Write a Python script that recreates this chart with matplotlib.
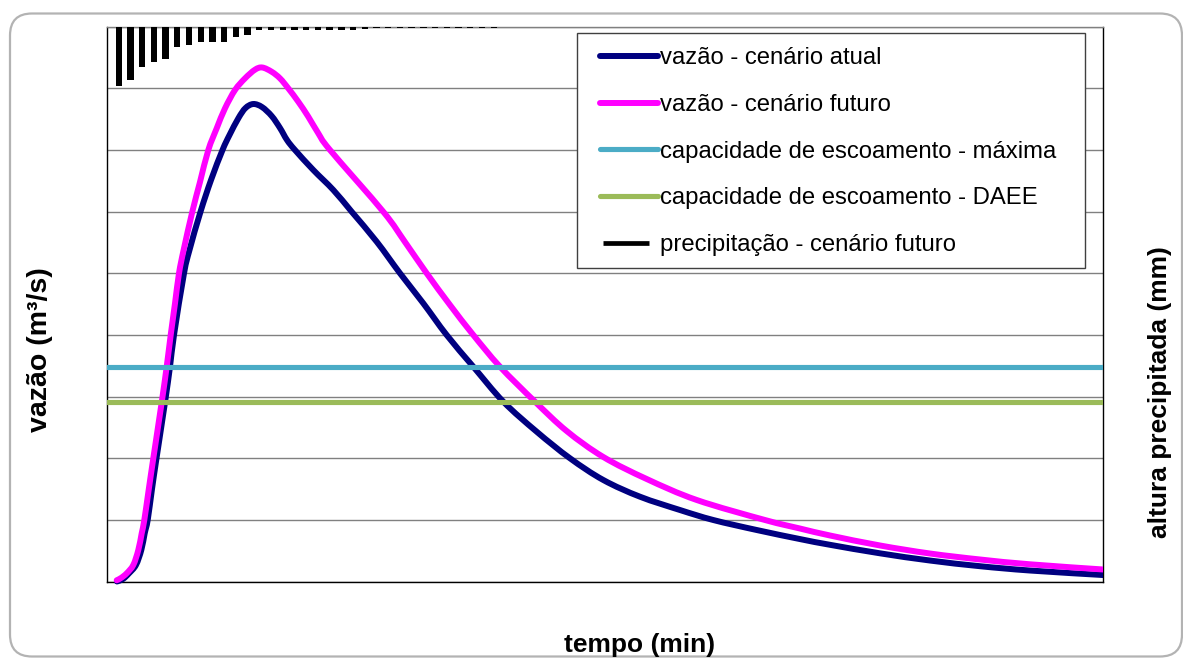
import matplotlib
matplotlib.use("Agg")
import matplotlib.pyplot as plt
from matplotlib.lines import Line2D
from matplotlib.path import Path
from matplotlib.patches import FancyBboxPatch, Rectangle, PathPatch
from matplotlib.transforms import IdentityTransform
from matplotlib.legend_handler import HandlerBase

plt.rcParams['font.family'] = ['Liberation Sans', 'DejaVu Sans']

# --- flow hydrographs (time in min, flow in m³/s) ---
t_atual = [4.27, 6.83, 9.39, 12.37, 14.64, 16.09, 17.37, 19.20, 21.12, 24.75,
           26.88, 28.59, 32.86, 35.20, 39.90, 44.38, 49.29, 52.27, 56.11, 59.10,
           62.43, 66.14, 70.28, 73.82, 76.81, 80.22, 88.03, 96.57, 104.42, 115.09,
           125.03, 134.97, 144.95, 156.31, 169.11, 183.36, 197.57, 211.78, 227.44,
           244.51, 258.72, 277.24, 295.71, 308.51, 329.85, 351.18, 372.52, 393.86,
           425.0]
q_atual = [0.0, 0.41, 1.33, 2.68, 5.11, 7.82, 9.97, 15.0, 19.98, 29.06,
           34.83, 39.97, 49.98, 53.75, 59.96, 65.10, 69.97, 72.40, 75.16, 76.78,
           77.43, 76.94, 75.48, 73.54, 71.59, 69.97, 66.73, 63.49, 59.96, 55.10,
           49.98, 45.11, 39.97, 34.83, 29.16, 24.29, 19.98, 16.46, 13.75,
           11.59, 9.97, 8.35, 6.88, 5.95, 4.57, 3.40, 2.48, 1.78,
           1.05]

t_futuro = [4.14, 5.97, 8.41, 11.22, 13.36, 14.81, 15.92, 17.84, 19.76, 23.34,
            25.47, 27.18, 29.02, 30.72, 32.69, 36.40, 39.68, 43.23, 46.81, 50.35,
            54.62, 58.89, 63.16, 66.27, 70.28, 73.82, 77.36, 81.63, 85.90, 90.16,
            95.16, 117.90, 127.16, 136.42, 146.36, 156.31, 167.70, 182.63, 196.16,
            211.78, 230.30, 251.63, 280.78, 295.71, 308.51, 329.85, 351.18, 372.52,
            393.86, 425.0]
q_futuro = [0.2, 0.57, 1.33, 2.68, 5.11, 7.82, 9.97, 15.0, 19.98, 29.06,
            34.83, 39.97, 45.11, 49.98, 53.75, 59.96, 64.78, 69.97, 73.49, 76.73,
            79.70, 81.59, 83.0, 83.35, 82.66, 81.59, 79.97, 77.80, 75.37, 72.68,
            69.97, 59.96, 55.05, 49.98, 44.84, 39.97, 34.83, 29.16, 24.40,
            20.19, 16.62, 13.22, 9.97, 8.59, 7.46, 5.84, 4.54, 3.57,
            2.79, 1.95]

# --- channel capacities (m³/s) ---
t_limites = [0.0, 425.0]
cap_maxima = 34.8
cap_daee = 29.05

# --- rainfall hyetograph (mm per 5-min step) ---
t_chuva = [5 * (i + 1) for i in range(33)]
p_chuva = [9.7, 8.75, 6.6, 5.8, 5.3, 3.35, 3.0, 2.45, 2.45, 2.45, 1.75, 1.35,
           0.6, 0.6, 0.6, 0.6, 0.6, 0.6, 0.6, 0.6, 0.6, 0.45, 0.3,
           0.25, 0.25, 0.25, 0.25, 0.25, 0.25, 0.25, 0.25, 0.25, 0.25]

labels = ["vazão - cenário atual", "vazão - cenário futuro",
          "capacidade de escoamento - máxima", "capacidade de escoamento - DAEE",
          "precipitação - cenário futuro"]


def smoothed_path(x, y):
    """Bezier path through the points (spreadsheet-style smoothed line)."""
    n = len(x)
    verts = [(x[0], y[0])]
    codes = [Path.MOVETO]
    for i in range(n - 1):
        a = i - 1 if i > 0 else i
        d = i + 2 if i + 2 < n else i + 1
        c1 = (x[i] + (x[i + 1] - x[a]) / 6.0, y[i] + (y[i + 1] - y[a]) / 6.0)
        c2 = (x[i + 1] - (x[d] - x[i]) / 6.0, y[i + 1] - (y[d] - y[i]) / 6.0)
        verts += [c1, c2, (x[i + 1], y[i + 1])]
        codes += [Path.CURVE4] * 3
    return Path(verts, codes)


class ShortLineHandler(HandlerBase):
    """Legend key drawn as a shorter bar, as used for the rainfall series."""
    def create_artists(self, legend, orig_handle, xdescent, ydescent, width,
                       height, fontsize, trans):
        y = height / 2 - ydescent
        x0 = -xdescent + 0.05 * width
        x1 = -xdescent + 0.84 * width
        line = Line2D([x0, x1], [y, y], color=orig_handle.get_color(),
                      lw=orig_handle.get_linewidth(), solid_capstyle='butt')
        line.set_transform(trans)
        return [line]


W, H = 1183, 658
fig = plt.figure(figsize=(W / 100, H / 100), dpi=100)
fig.patch.set_facecolor('white')

# rounded chart frame
frame = FancyBboxPatch((10, 1.5), 1172, 643, boxstyle="round,pad=0,rounding_size=22",
                       transform=IdentityTransform(), facecolor='none',
                       edgecolor='#b3b3b3', linewidth=1.6, zorder=0)
fig.patches.append(frame)

left, right, top, bottom = 107, 1103, 26.5, 581.5
ax = fig.add_axes([left / W, 1 - bottom / H, (right - left) / W, (bottom - top) / H])
ax.set_yticks(range(0, 91, 10))
ax.set_xticks([])
ax.tick_params(axis='both', length=0, left=False, right=False, bottom=False,
               labelleft=False, labelbottom=False)
ax.grid(axis='y', color='#808080', linewidth=1.0)
ax.set_axisbelow(True)
for s in ax.spines.values():
    s.set_color('black')
    s.set_linewidth(1.0)
ax.spines['top'].set_color('#808080')

lw = 4.3
clip_rect = Rectangle((-0.05, -0.05), 1.05, 1.1, transform=ax.transAxes)
for tt, qq, col, z in [(t_atual, q_atual, '#000080', 3),
                       (t_futuro, q_futuro, '#FF00FF', 4)]:
    pp = PathPatch(smoothed_path(tt, qq), facecolor='none', edgecolor=col, lw=lw,
                   capstyle='round', joinstyle='round', zorder=z)
    ax.add_patch(pp)
    pp.set_clip_path(clip_rect)
ax.plot(t_limites, [cap_maxima] * 2, color='#4BACC6', lw=3.7, zorder=5)
ax.plot(t_limites, [cap_daee] * 2, color='#9BBB59', lw=3.7, zorder=5)
ax.set_xlim(0, 425)
ax.set_ylim(0, 90)

# rainfall on an inverted secondary axis
ax2 = ax.twinx()
ax2.set_ylim(90, 0)
ax2.bar(t_chuva, p_chuva, width=2.7, color='black', align='center')
ax2.set_yticks([])
ax2.tick_params(axis='both', length=0, left=False, right=False,
                labelleft=False, labelright=False)
ax2.patch.set_visible(False)
for s in ax2.spines.values():
    s.set_visible(False)

# legend box and entries
box = Rectangle((577, H - 268), 508, 235, transform=IdentityTransform(),
                facecolor='white', edgecolor='#404040', linewidth=1.0, zorder=2)
fig.add_artist(box)

h5 = Line2D([], [], color='black', lw=3.4)
handles = [Line2D([], [], color='#000080', lw=lw, solid_capstyle='round'),
           Line2D([], [], color='#FF00FF', lw=lw, solid_capstyle='round'),
           Line2D([], [], color='#4BACC6', lw=3.7, solid_capstyle='round'),
           Line2D([], [], color='#9BBB59', lw=3.7, solid_capstyle='round'),
           h5]
leg = fig.legend(handles, labels, loc='upper left',
                 bbox_to_anchor=(600 / W, 1 - 47.5 / H), bbox_transform=fig.transFigure,
                 fontsize=17.2, frameon=False,
                 handlelength=2.42, handletextpad=0.08, labelspacing=1.03,
                 borderpad=0, borderaxespad=0,
                 handler_map={h5: ShortLineHandler()})
leg.set_zorder(5)

fig.text(40 / W, 1 - 350 / H, "vazão (m³/s)", rotation=90, ha='center', va='center',
         fontsize=20.5, fontweight='bold')
fig.text(640 / W, 1 - 645 / H, "tempo (min)", ha='center', va='center',
         fontsize=19, fontweight='bold')
fig.text(1160 / W, 1 - 392 / H, "altura precipitada (mm)", rotation=90, ha='center',
         va='center', fontsize=19, fontweight='bold')

fig.savefig("out.png", dpi=100)
